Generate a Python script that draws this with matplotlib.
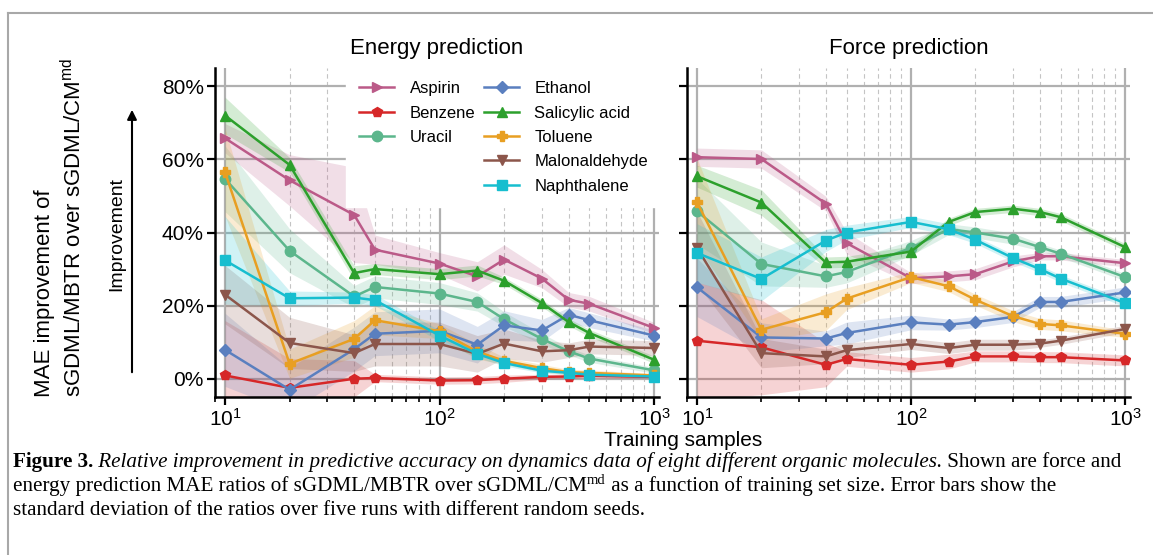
import numpy as np
import matplotlib
matplotlib.use("Agg")
import matplotlib.pyplot as plt
from matplotlib.ticker import PercentFormatter, LogLocator, NullFormatter
from matplotlib.lines import Line2D

plt.rcParams["font.family"] = "Liberation Sans"
plt.rcParams["mathtext.fontset"] = "custom"
plt.rcParams["mathtext.rm"] = "Liberation Sans"
plt.rcParams["mathtext.it"] = "Liberation Sans:italic"
plt.rcParams["mathtext.bf"] = "Liberation Sans:bold"
plt.rcParams["mathtext.default"] = "regular"

# training set sizes
samples = [10, 20, 40, 50, 100, 150, 200, 300, 400, 500, 1000]

molecules = ["Aspirin", "Benzene", "Uracil", "Ethanol", "Salicylic acid",
             "Toluene", "Malonaldehyde", "Naphthalene"]
colors = ["#bb5a88", "#d62728", "#5cb68c", "#5a7fbf", "#2ca02c",
          "#e89f22", "#8c564b", "#17becf"]
markers = [">", "p", "o", "D", "^", "P", "v", "s"]

# energy prediction, improvement in %
aspirin_e = [65.8, 54.3, 44.8, 35.3, 31.5, 28.0, 32.6, 27.4, 21.6, 20.5, 13.9]
benzene_e = [0.9, -2.5, 0.0, 0.2, -0.5, -0.4, 0.0, 0.5, 0.6, 0.8, 0.5]
uracil_e = [54.7, 35.0, 22.5, 25.1, 23.3, 21.0, 16.3, 10.9, 7.5, 5.5, 2.3]
ethanol_e = [7.9, -3.0, 8.1, 12.3, 13.1, 9.3, 14.6, 13.2, 17.5, 16.0, 11.8]
salicylic_e = [72.0, 58.5, 28.9, 30.0, 28.6, 29.6, 26.8, 20.7, 15.5, 12.5, 5.2]
toluene_e = [56.5, 4.1, 10.9, 16.0, 13.0, 7.4, 4.9, 2.9, 1.8, 1.6, 0.9]
malon_e = [23.0, 9.8, 7.0, 9.5, 9.5, 6.8, 9.6, 7.5, 7.8, 8.8, 8.4]
naph_e = [32.4, 22.0, 22.2, 21.5, 11.8, 6.8, 4.3, 2.2, 1.6, 1.1, 0.6]

# energy std over runs
aspirin_e_sd = [4, 7, 13, 4, 3, 4, 4, 2.5, 2, 2, 1.5]
benzene_e_sd = [15, 8, 5, 1, 1, 1, 1, 0.7, 0.6, 0.6, 0.5]
uracil_e_sd = [9, 6, 3, 3, 3, 2.5, 2, 1.5, 1, 1, 0.8]
ethanol_e_sd = [10, 6, 6, 6, 6, 5, 4, 3, 2, 2, 1.5]
salicylic_e_sd = [5, 2, 2, 1.5, 1.5, 1.5, 1, 1, 1, 1, 1]
toluene_e_sd = [12, 4, 5, 4, 2, 2, 1, 1, 0.8, 0.8, 0.5]
malon_e_sd = [8, 7, 5, 6, 6, 5, 4, 3, 2, 2, 2]
naph_e_sd = [12, 2, 1.5, 1.5, 1.5, 1, 0.8, 0.6, 0.5, 0.5, 0.5]

# force prediction, improvement in %
aspirin_f = [60.6, 60.1, 47.9, 37.1, 27.5, 28.0, 28.6, 32.1, 33.5, 33.5, 31.6]
benzene_f = [10.4, 8.6, 3.8, 5.4, 3.8, 4.7, 6.1, 6.1, 5.9, 5.9, 5.0]
uracil_f = [45.8, 31.4, 28.0, 29.2, 35.8, 40.9, 40.0, 38.3, 36.0, 34.2, 27.8]
ethanol_f = [25.0, 11.3, 11.0, 12.5, 15.4, 14.8, 15.5, 16.9, 21.0, 21.0, 23.6]
salicylic_f = [55.4, 48.2, 31.8, 32.0, 34.8, 42.9, 45.6, 46.5, 45.6, 44.2, 36.0]
toluene_f = [48.3, 13.4, 18.2, 21.9, 27.8, 25.3, 21.6, 17.1, 15.0, 14.6, 12.3]
malon_f = [35.8, 7.0, 6.1, 7.8, 9.5, 8.4, 9.3, 9.3, 9.6, 10.4, 13.6]
naph_f = [34.4, 27.3, 37.8, 40.0, 42.9, 40.9, 38.0, 33.0, 30.0, 27.4, 20.7]

# force std over runs
aspirin_f_sd = [2.5, 2.5, 2, 3, 1.5, 1.5, 1.5, 1.5, 1, 1, 1]
benzene_f_sd = [16, 13, 6, 2, 2, 2, 1.5, 1.5, 1.5, 1.5, 1.5]
uracil_f_sd = [9, 6, 3, 3, 2, 1.5, 1.5, 1.5, 1, 1, 1]
ethanol_f_sd = [8, 4, 2, 3, 2, 1.5, 1.5, 1.5, 1.5, 1.5, 1.5]
salicylic_f_sd = [3, 3.5, 1.5, 1.5, 1.5, 1, 1, 1, 1, 1, 1]
toluene_f_sd = [12, 3, 5, 3, 1.5, 1.5, 1.5, 1.5, 1.5, 1.5, 1]
malon_f_sd = [10, 4, 2, 2, 1.5, 1.5, 1.5, 1.5, 1, 1, 1]
naph_f_sd = [8, 6, 3, 2, 1.5, 1.5, 1, 1, 1, 1, 1]

energy = [aspirin_e, benzene_e, uracil_e, ethanol_e, salicylic_e, toluene_e, malon_e, naph_e]
energy_sd = [aspirin_e_sd, benzene_e_sd, uracil_e_sd, ethanol_e_sd, salicylic_e_sd,
             toluene_e_sd, malon_e_sd, naph_e_sd]
force = [aspirin_f, benzene_f, uracil_f, ethanol_f, salicylic_f, toluene_f, malon_f, naph_f]
force_sd = [aspirin_f_sd, benzene_f_sd, uracil_f_sd, ethanol_f_sd, salicylic_f_sd,
            toluene_f_sd, malon_f_sd, naph_f_sd]

W, H = 1153, 555
fig = plt.figure(figsize=(W / 100, H / 100), dpi=100)
ax1 = fig.add_axes([215 / W, 1 - 397 / H, 444 / W, 329 / H])
ax2 = fig.add_axes([687 / W, 1 - 397 / H, 443 / W, 329 / H], sharey=ax1)

x = np.array(samples)
for ax, means, sds, title in [(ax1, energy, energy_sd, "Energy prediction"),
                              (ax2, force, force_sd, "Force prediction")]:
    for m, s, c, mk, name in zip(means, sds, colors, markers, molecules):
        m = np.array(m)
        s = np.array(s)
        ax.fill_between(x, m - s, m + s, color=c, alpha=0.2, lw=0)
        ms = 6.5 if mk == "D" else 7.5
        ax.plot(x, m, color=c, marker=mk, ms=ms, lw=1.8, label=name)
    ax.set_xscale("log")
    ax.set_xlim(8.98, 1055)
    ax.set_ylim(-5, 85)
    ax.set_yticks([0, 20, 40, 60, 80])
    ax.yaxis.set_major_formatter(PercentFormatter(decimals=0))
    ax.xaxis.set_minor_locator(LogLocator(base=10, subs=np.arange(2, 10)))
    ax.xaxis.set_minor_formatter(NullFormatter())
    ax.set_axisbelow(True)
    ax.grid(True, which="major", color="#b0b0b0", lw=1.6)
    ax.grid(True, which="minor", axis="x", color="#c4c4c4", lw=0.8, ls=(0, (4, 3)))
    for side in ["top", "right"]:
        ax.spines[side].set_visible(False)
    for side in ["left", "bottom"]:
        ax.spines[side].set_linewidth(1.8)
    ax.tick_params(which="major", length=6, width=1.6, labelsize=15, pad=2)
    ax.tick_params(which="minor", length=3.5, width=1.2)
    ax.set_title(title, fontsize=16, pad=10)

ax2.tick_params(labelleft=False)

# legend with 3 entries in the first column
handles, labels = ax1.get_legend_handles_labels()
blank = Line2D([], [], color="none")
handles = handles[:3] + [blank, blank] + handles[3:]
labels = labels[:3] + ["", ""] + labels[3:]
leg = ax1.legend(handles, labels, ncol=2, loc="upper right", bbox_to_anchor=(1.005, 1.0),
                 fontsize=12, frameon=True, facecolor="white", edgecolor="white",
                 framealpha=1, fancybox=False, handlelength=2.1, handletextpad=0.9,
                 columnspacing=0.55, labelspacing=0.56, borderpad=0.8, borderaxespad=0.0)

fig.text(683 / W, 1 - 441 / H, "Training samples", ha="center", va="center", fontsize=15)
fig.text(60 / W, 1 - 227 / H, "MAE improvement of\nsGDML/MBTR over sGDML/CM$^{md}$",
         rotation=90, ha="center", va="center", multialignment="left",
         fontsize=16, linespacing=1.3)
fig.text(117 / W, 1 - 234 / H, "Improvement", rotation=90, ha="center", va="center", fontsize=14)
ax1.annotate("", xy=(132 / W, 1 - 107 / H), xytext=(132 / W, 1 - 375 / H),
             xycoords="figure fraction", textcoords="figure fraction",
             arrowprops=dict(arrowstyle="-|>", color="k", lw=1.5, mutation_scale=14),
             annotation_clip=False)

# page frame
fig.add_artist(Line2D([8 / W, 1], [1 - 13 / H, 1 - 13 / H], transform=fig.transFigure,
                      color="#a8a8a8", lw=1.5))
fig.add_artist(Line2D([8 / W, 8 / W], [0, 1 - 13 / H], transform=fig.transFigure,
                      color="#a8a8a8", lw=1.5))

# caption
renderer = fig.canvas.get_renderer()
serif = "Liberation Serif"
cap_size = 15.2


def caption_line(x0, y0, parts):
    xx = x0
    for txt, kw in parts:
        dy = kw.pop("dy", 0)
        size = kw.pop("size", cap_size)
        t = fig.text(xx / W, 1 - (y0 + dy) / H, txt, ha="left", va="baseline",
                     fontfamily=serif, fontsize=size, **kw)
        xx += t.get_window_extent(renderer).width


caption_line(13, 467, [("Figure 3.", dict(weight="bold")),
                       (" Relative improvement in predictive accuracy on dynamics data of eight "
                        "different organic molecules.", dict(style="italic")),
                       (" Shown are force and", dict())])
caption_line(13, 491, [("energy prediction MAE ratios of sGDML/MBTR over sGDML/CM", dict()),
                       ("md", dict(size=10.5, dy=-7)),
                       (" as a function of training set size. Error bars show the", dict())])
caption_line(13, 515, [("standard deviation of the ratios over five runs with different random seeds.",
                        dict())])

fig.savefig("out.png", dpi=100)
